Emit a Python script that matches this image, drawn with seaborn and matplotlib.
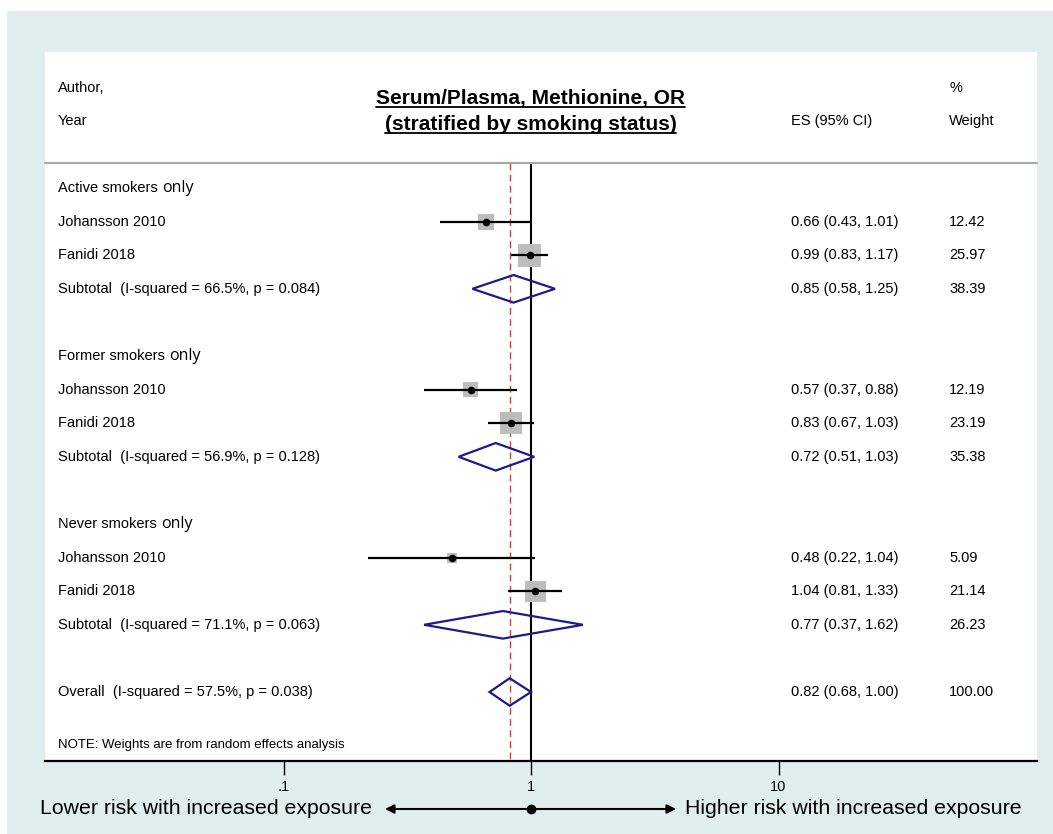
import numpy as np
import pandas as pd
import matplotlib
matplotlib.use("Agg")
import matplotlib.pyplot as plt
import seaborn as sns
from matplotlib.patches import Rectangle, Polygon, FancyArrowPatch
from matplotlib.lines import Line2D
from matplotlib.transforms import blended_transform_factory


# --- data ---
groups = ["Active smokers", "Former smokers", "Never smokers"]
studies = ["Johansson 2010", "Fanidi 2018"]
es = [0.66, 0.99, 0.57, 0.83, 0.48, 1.04]
ci_lo = [0.43, 0.83, 0.37, 0.67, 0.22, 0.81]
ci_hi = [1.01, 1.17, 0.88, 1.03, 1.04, 1.33]
weight = [12.42, 25.97, 12.19, 23.19, 5.09, 21.14]

sub_es = [0.85, 0.72, 0.77]
sub_lo = [0.58, 0.51, 0.37]
sub_hi = [1.25, 1.03, 1.62]
sub_weight = [38.39, 35.38, 26.23]
sub_i2 = ["66.5%", "56.9%", "71.1%"]
sub_p = ["0.084", "0.128", "0.063"]

overall_es, overall_lo, overall_hi = 0.82, 0.68, 1.00
overall_weight = 100.00
overall_i2, overall_p = "57.5%", "0.038"

tick_vals = [0.1, 1, 10]
tick_labels = [".1", "1", "10"]

# --- page geometry (pixels on a 1053x834 canvas) ---
W, H = 1053, 834
panel_l, panel_r, panel_t, panel_b = 45, 1037, 52, 761
row0_px, row_step = 188, 33.6
x1_px, decade_px = 531, 247.5

sns.set_style("white")
plt.rcParams["font.family"] = ["Liberation Sans", "DejaVu Sans"]
plt.rcParams["text.color"] = "black"
plt.rcParams["xtick.color"] = "black"
plt.rcParams["xtick.labelcolor"] = "black"

fig = plt.figure(figsize=(W / 100, H / 100), dpi=100)
fig.patch.set_facecolor("white")
fig.patches.append(Rectangle((7 / W, 0), 1 - 7 / W, 1 - 11 / H, transform=fig.transFigure,
                             facecolor="#e0eeef", edgecolor="none", zorder=-5))

ax = fig.add_axes([panel_l / W, 1 - panel_b / H, (panel_r - panel_l) / W, (panel_b - panel_t) / H])
ax.set_facecolor("white")
ax.set_xscale("log")
ax.set_xlim(10 ** ((panel_l - x1_px) / decade_px), 10 ** ((panel_r - x1_px) / decade_px))


def row(px):
    return (px - row0_px) / row_step


ax.set_ylim(row(panel_b), row(panel_t))

# build study table
recs = []
for g in range(len(groups)):
    for s in range(len(studies)):
        i = g * len(studies) + s
        recs.append({"study": studies[s], "es": es[i], "lo": ci_lo[i], "hi": ci_hi[i],
                     "w": weight[i], "row": g * 5 + 1 + s})
df = pd.DataFrame(recs)

sep_row = row(162.5)
# reference lines
ax.plot([1, 1], [sep_row, row(panel_b)], color="black", lw=1.5, zorder=2)
ax.plot([overall_es, overall_es], [sep_row, row(panel_b)], color="#d93a3a", lw=1.0,
        dashes=(5, 3), zorder=2)
ax.plot([ax.get_xlim()[0], ax.get_xlim()[1]], [sep_row, sep_row], color="#a8a8a8", lw=1.5,
        zorder=2, clip_on=False)

# weight boxes, CIs, point estimates
sns.scatterplot(data=df, x="es", y="row", marker="s", s=df["w"] * 10.5, color="#bdbdbd",
                linewidth=0, ax=ax, zorder=3, legend=False)
ax.hlines(df["row"], df["lo"], df["hi"], color="black", lw=1.6, zorder=4)
sns.scatterplot(data=df, x="es", y="row", marker="o", s=30, color="black", linewidth=0,
                ax=ax, zorder=5, legend=False)


def diamond(c, lo, hi, r, half=0.41):
    pts = [(lo, r), (c, r - half), (hi, r), (c, r + half)]
    ax.add_patch(Polygon(pts, closed=True, fill=False, edgecolor="#1b1b8a", lw=1.6, zorder=6))


fs = 10.5
tr = blended_transform_factory(ax.transAxes, ax.transData)
col_lab = (58 - panel_l) / (panel_r - panel_l)
col_es = (791 - panel_l) / (panel_r - panel_l)
col_w = (949 - panel_l) / (panel_r - panel_l)

for g in range(len(groups)):
    r0 = g * 5
    t = ax.text(col_lab, r0, groups[g] + " ", transform=tr, va="center", fontsize=fs)
    ax.annotate("only", xy=(1, 0.5), xycoords=t, va="center", ha="left", fontsize=11.5,
                family=["Open Sans", "DejaVu Sans"], color="black")
    diamond(sub_es[g], sub_lo[g], sub_hi[g], r0 + 3)
    ax.text(col_lab, r0 + 3, f"Subtotal  (I-squared = {sub_i2[g]}, p = {sub_p[g]})",
            transform=tr, va="center", fontsize=fs)
    ax.text(col_es, r0 + 3, f"{sub_es[g]:.2f} ({sub_lo[g]:.2f}, {sub_hi[g]:.2f})",
            transform=tr, va="center", fontsize=fs)
    ax.text(col_w, r0 + 3, f"{sub_weight[g]:.2f}", transform=tr, va="center", fontsize=fs)

for _, d in df.iterrows():
    ax.text(col_lab, d["row"], d["study"], transform=tr, va="center", fontsize=fs)
    ax.text(col_es, d["row"], f"{d['es']:.2f} ({d['lo']:.2f}, {d['hi']:.2f})",
            transform=tr, va="center", fontsize=fs)
    ax.text(col_w, d["row"], f"{d['w']:.2f}", transform=tr, va="center", fontsize=fs)

ov_row = 15
diamond(overall_es, overall_lo, overall_hi, ov_row)
ax.text(col_lab, ov_row, f"Overall  (I-squared = {overall_i2}, p = {overall_p})",
        transform=tr, va="center", fontsize=fs)
ax.text(col_es, ov_row, f"{overall_es:.2f} ({overall_lo:.2f}, {overall_hi:.2f})",
        transform=tr, va="center", fontsize=fs)
ax.text(col_w, ov_row, f"{overall_weight:.2f}", transform=tr, va="center", fontsize=fs)
ax.text(col_lab, row(745), "NOTE: Weights are from random effects analysis",
        transform=tr, va="center", fontsize=9.5)

# header
ax.text(col_lab, row(88), "Author,", transform=tr, va="center", fontsize=fs)
ax.text(col_lab, row(121), "Year", transform=tr, va="center", fontsize=fs)
ax.text(col_es, row(121), "ES (95% CI)", transform=tr, va="center", fontsize=fs)
ax.text(col_w, row(88), "%", transform=tr, va="center", fontsize=fs)
ax.text(col_w, row(121), "Weight", transform=tr, va="center", fontsize=fs)
title_lines = ["Serum/Plasma, Methionine, OR", "(stratified by smoking status)"]
title_base = [104, 130]
title_txt = []
for line, yb in zip(title_lines, title_base):
    title_txt.append(ax.text(0.995, row(yb), line, transform=ax.transData,
                             ha="center", va="baseline", fontsize=15, fontweight="bold"))

# axis styling
for side in ["left", "right", "top"]:
    ax.spines[side].set_visible(False)
ax.spines["bottom"].set_linewidth(1.6)
ax.spines["bottom"].set_color("black")
ax.set_yticks([])
ax.set_xticks(tick_vals)
ax.set_xticklabels(tick_labels)
ax.minorticks_off()
ax.tick_params(axis="x", direction="out", length=10, width=1.0, color="black",
               labelcolor="black", labelsize=fs, pad=4, bottom=True)
ax.set_xlabel("")
ax.set_ylabel("")

# direction annotation under the axis
ya = 1 - 809 / H
fig.text(40 / W, ya, "Lower risk with increased exposure", fontsize=15.3, va="center")
fig.text(685 / W, ya, "Higher risk with increased exposure", fontsize=15.3, va="center")
for xe in [385, 676]:
    fig.add_artist(FancyArrowPatch((x1_px / W, ya), (xe / W, ya), transform=fig.transFigure,
                                   arrowstyle="-|>", mutation_scale=13, lw=1.5,
                                   color="black", shrinkA=0, shrinkB=0))
fig.add_artist(Line2D([x1_px / W], [ya], marker="o", markersize=6, color="black",
                      transform=fig.transFigure))

# underline the title lines
fig.canvas.draw()
rend = fig.canvas.get_renderer()
for t, yb in zip(title_txt, title_base):
    bb = t.get_window_extent(rend)
    yu = 1 - (yb + 2.5) / H
    fig.add_artist(Line2D([bb.x0 / W, bb.x1 / W], [yu, yu], color="black", lw=1.3,
                          transform=fig.transFigure))

fig.savefig("out.png", dpi=100)
